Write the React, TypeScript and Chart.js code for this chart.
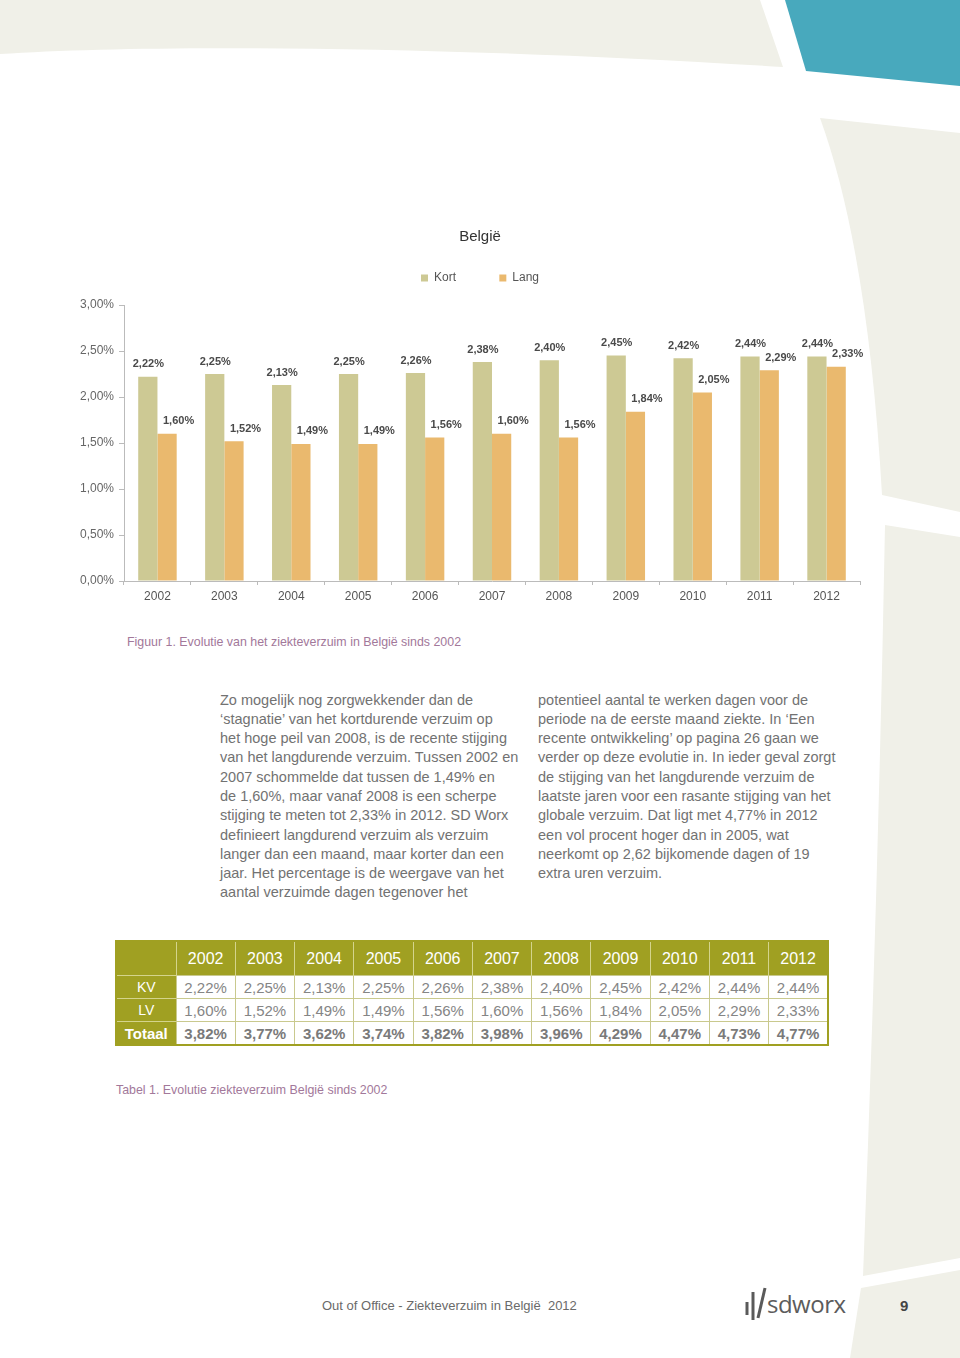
import React, { useEffect, useRef } from 'react';
import { Chart, registerables } from 'chart.js';

Chart.register(...registerables);

// ---- data ----
const years = ['2002', '2003', '2004', '2005', '2006', '2007', '2008', '2009', '2010', '2011', '2012'];
const seriesNames = ['Kort', 'Lang'];
const kortValues = [2.22, 2.25, 2.13, 2.25, 2.26, 2.38, 2.4, 2.45, 2.42, 2.44, 2.44];
const langValues = [1.6, 1.52, 1.49, 1.49, 1.56, 1.6, 1.56, 1.84, 2.05, 2.29, 2.33];
const totaalValues = [3.82, 3.77, 3.62, 3.74, 3.82, 3.98, 3.96, 4.29, 4.47, 4.73, 4.77];
const yTickValues = [0, 0.5, 1, 1.5, 2, 2.5, 3];
const tableRowLabels = ['KV', 'LV', 'Totaal'];

const chartTitle = 'België';
const figureCaption = 'Figuur 1. Evolutie van het ziekteverzuim in België sinds 2002';
const tableCaption = 'Tabel 1. Evolutie ziekteverzuim België sinds 2002';
const footerText = 'Out of Office - Ziekteverzuim in België  2012';
const pageNumber = '9';

const leftColumn = [
  'Zo mogelijk nog zorgwekkender dan de',
  '‘stagnatie’ van het kortdurende verzuim op',
  'het hoge peil van 2008, is de recente stijging',
  'van het langdurende verzuim. Tussen 2002 en',
  '2007 schommelde dat tussen de 1,49% en',
  'de 1,60%, maar vanaf 2008 is een scherpe',
  'stijging te meten tot 2,33% in 2012. SD Worx',
  'definieert langdurend verzuim als verzuim',
  'langer dan een maand, maar korter dan een',
  'jaar. Het percentage is de weergave van het',
  'aantal verzuimde dagen tegenover het',
];
const rightColumn = [
  'potentieel aantal te werken dagen voor de',
  'periode na de eerste maand ziekte. In ‘Een',
  'recente ontwikkeling’ op pagina 26 gaan we',
  'verder op deze evolutie in. In ieder geval zorgt',
  'de stijging van het langdurende verzuim de',
  'laatste jaren voor een rasante stijging van het',
  'globale verzuim. Dat ligt met 4,77% in 2012',
  'een vol procent hoger dan in 2005, wat',
  'neerkomt op 2,62 bijkomende dagen of 19',
  'extra uren verzuim.',
];

const FONT = "'Liberation Sans', Arial, Helvetica, sans-serif";
const KORT_COLOR = '#cdc994';
const LANG_COLOR = '#eab96e';
const OLIVE = '#a0a022';
const BEIGE = '#f0f0e8';
const MAUVE = '#a2789a';

const fmt = (v: number) => v.toFixed(2).replace('.', ',') + '%';

const barLabelPlugin = {
  id: 'barLabels',
  afterDatasetsDraw(chart: any) {
    const ctx = chart.ctx;
    ctx.save();
    ctx.font = `bold 11px ${FONT}`;
    ctx.fillStyle = '#4a4a4a';
    ctx.textAlign = 'center';
    ctx.textBaseline = 'middle';
    chart.data.datasets.forEach((ds: any, di: number) => {
      const meta = chart.getDatasetMeta(di);
      const dx = di === 0 ? 0.5 : 11.5;
      meta.data.forEach((el: any, i: number) => {
        ctx.fillText(fmt(ds.data[i]), el.x + dx, el.y - 12.5);
      });
    });
    ctx.restore();
  },
};

function BarChart() {
  const ref = useRef<HTMLCanvasElement>(null);
  useEffect(() => {
    if (!ref.current) return;
    const chart = new Chart(ref.current, {
      type: 'bar',
      data: {
        labels: years,
        datasets: [
          { label: seriesNames[0], data: kortValues, backgroundColor: KORT_COLOR, borderWidth: 0 },
          { label: seriesNames[1], data: langValues, backgroundColor: LANG_COLOR, borderWidth: 0 },
        ],
      },
      options: {
        responsive: false,
        animation: false,
        events: [],
        datasets: { bar: { categoryPercentage: 0.575, barPercentage: 1 } },
        layout: { padding: 0 },
        plugins: {
          title: {
            display: true,
            text: chartTitle,
            color: '#333',
            font: { size: 15, weight: 'normal', family: FONT },
            padding: { top: 26, bottom: 16 },
          },
          subtitle: {
            display: true,
            text: '',
            weight: 500,
            font: { size: 1, lineHeight: 1 },
            padding: { top: 0, bottom: 10 },
          } as any,
          legend: {
            display: true,
            position: 'top',
            labels: {
              boxWidth: 7,
              boxHeight: 7,
              padding: 10,
              color: '#555',
              font: { size: 12, family: FONT },
              generateLabels: (c: any) => {
                const items = (Chart.defaults.plugins.legend.labels as any).generateLabels(c);
                return items.map((it: any, i: number) =>
                  i < items.length - 1 ? { ...it, text: it.text + '\u00a0'.repeat(10) } : it
                );
              },
            },
          },
          tooltip: { enabled: false },
        },
        scales: {
          x: {
            grid: { display: true, drawOnChartArea: false, drawTicks: true, tickLength: 4, color: '#bbb', offset: true },
            border: { display: true, color: '#bbb' },
            ticks: { color: '#555', font: { size: 12, family: FONT }, padding: 4 },
            afterFit: (s: any) => { s.height = 30; },
          },
          y: {
            min: 0,
            max: 3,
            afterBuildTicks: (s: any) => { s.ticks = yTickValues.map((v) => ({ value: v })); },
            ticks: { callback: (v: any) => fmt(Number(v)), color: '#666', font: { size: 12, family: FONT }, padding: 5 },
            grid: { drawOnChartArea: false, drawTicks: true, tickLength: 5, color: '#bbb' },
            border: { display: true, color: '#bbb' },
            afterFit: (s: any) => { s.width = 124; },
          },
          yRight: {
            position: 'right',
            display: true,
            grid: { display: false, drawTicks: false },
            border: { display: false },
            ticks: { display: false },
            afterFit: (s: any) => { s.width = 100; },
          },
        },
      },
      plugins: [barLabelPlugin],
    } as any);
    return () => chart.destroy();
  }, []);
  return (
    <canvas
      ref={ref}
      width={960}
      height={409}
      style={{ position: 'absolute', left: 0, top: 202, width: 960, height: 409 }}
    />
  );
}

function Background() {
  return (
    <svg width={960} height={1358} style={{ position: 'absolute', left: 0, top: 0 }}>
      <path d="M0 0 L760 0 L783 67 C450 46 150 44 0 54 Z" fill={BEIGE} />
      <path d="M785 0 L960 0 L960 86 L806 71 Z" fill="#48a9bd" />
      <path d="M820 118 L960 133 L960 512 L882 495 Q868 250 820 118 Z" fill={BEIGE} />
      <path d="M885 525 L960 537 L960 1258 L863 1276 Q878 900 885 525 Z" fill={BEIGE} />
      <path d="M861 1288 L960 1270 L960 1358 L850 1358 Z" fill={BEIGE} />
    </svg>
  );
}

function DataTable() {
  const cellBase: React.CSSProperties = {
    textAlign: 'center',
    padding: 0,
    fontFamily: FONT,
  };
  const dataCell: React.CSSProperties = {
    ...cellBase,
    color: '#858585',
    fontSize: 15,
    height: 22,
    background: '#fff',
    border: '1px solid #c9c98e',
  };
  const rows = [kortValues, langValues, totaalValues];
  return (
    <table
      style={{
        position: 'absolute',
        left: 115,
        top: 940,
        width: 714,
        borderCollapse: 'collapse',
        tableLayout: 'fixed',
        border: `2px solid ${OLIVE}`,
      }}
    >
      <colgroup>
        <col style={{ width: 60 }} />
        {years.map((y) => (
          <col key={y} />
        ))}
      </colgroup>
      <thead>
        <tr>
          <th style={{ ...cellBase, background: OLIVE, height: 33 }} />
          {years.map((y) => (
            <th
              key={y}
              style={{
                ...cellBase,
                background: OLIVE,
                color: '#fff',
                fontSize: 16,
                fontWeight: 'normal',
                height: 33,
                borderLeft: '1px solid #d4d48c',
              }}
            >
              {y}
            </th>
          ))}
        </tr>
      </thead>
      <tbody>
        {rows.map((vals, ri) => (
          <tr key={ri}>
            <td
              style={{
                ...cellBase,
                background: OLIVE,
                color: '#fff',
                fontSize: ri === 2 ? 15 : 14,
                fontWeight: ri === 2 ? 'bold' : 'normal',
                height: 22,
                borderTop: '1px solid #d4d48c',
              }}
            >
              {tableRowLabels[ri]}
            </td>
            {vals.map((v, i) => (
              <td key={i} style={{ ...dataCell, fontWeight: ri === 2 ? 'bold' : 'normal', color: ri === 2 ? '#7a7a7a' : '#858585' }}>
                {fmt(v)}
              </td>
            ))}
          </tr>
        ))}
      </tbody>
    </table>
  );
}

function TextColumn({ lines, left }: { lines: string[]; left: number }) {
  return (
    <div
      style={{
        position: 'absolute',
        left,
        top: 690.5,
        fontFamily: FONT,
        fontSize: 14.5,
        lineHeight: '19.3px',
        color: '#727272',
        whiteSpace: 'nowrap',
      }}
    >
      {lines.map((l, i) => (
        <div key={i}>{l}</div>
      ))}
    </div>
  );
}

export default function App() {
  return (
    <div
      style={{
        position: 'absolute',
        left: 0,
        top: 0,
        width: 960,
        height: 1358,
        background: '#fff',
        overflow: 'hidden',
        fontFamily: FONT,
      }}
    >
      <Background />
      <BarChart />
      <div style={{ position: 'absolute', left: 127, top: 634, fontSize: 12.4, lineHeight: '16px', color: MAUVE, whiteSpace: 'nowrap' }}>
        {figureCaption}
      </div>
      <TextColumn lines={leftColumn} left={220} />
      <TextColumn lines={rightColumn} left={538} />
      <DataTable />
      <div style={{ position: 'absolute', left: 116, top: 1082, fontSize: 12.4, lineHeight: '16px', color: MAUVE, whiteSpace: 'nowrap' }}>
        {tableCaption}
      </div>
      <div style={{ position: 'absolute', left: 322, top: 1298, fontSize: 13, lineHeight: '16px', color: '#6a6a6a', whiteSpace: 'pre' }}>
        {footerText}
      </div>
      <svg width={24} height={40} style={{ position: 'absolute', left: 743, top: 1285 }}>
        <line x1={4} y1={17} x2={4} y2={30} stroke="#5a5a5a" strokeWidth={3} />
        <line x1={10} y1={7} x2={10} y2={35} stroke="#5a5a5a" strokeWidth={3} />
        <line x1={15} y1={33} x2={22} y2={3} stroke="#5a5a5a" strokeWidth={3} />
      </svg>
      <div style={{ position: 'absolute', left: 767, top: 1290, fontFamily: "'Open Sans', Arial, sans-serif", fontSize: 24, lineHeight: '28px', color: '#5c5c5c', letterSpacing: -0.5, whiteSpace: 'nowrap' }}>
        sdworx
      </div>
      <div style={{ position: 'absolute', left: 900, top: 1297, fontSize: 15, lineHeight: '18px', fontWeight: 'bold', color: '#444' }}>
        {pageNumber}
      </div>
    </div>
  );
}
